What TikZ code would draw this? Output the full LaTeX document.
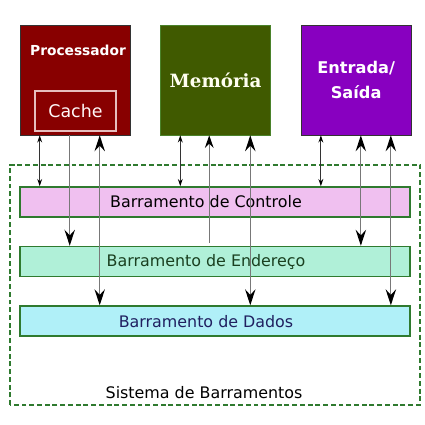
\documentclass[tikz,border=0pt]{standalone}
\usepackage{fontspec}
\setmainfont{DejaVu Sans}
\newfontfamily\memfont{DejaVu Serif}
\definecolor{ProcRed}{RGB}{136,0,0}
\definecolor{MemGreen}{RGB}{64,90,0}
\definecolor{MemEdge}{RGB}{74,130,42}
\definecolor{IOPurple}{RGB}{136,0,192}
\definecolor{BusGreen}{RGB}{47,122,47}
\definecolor{CtrlPink}{RGB}{240,192,240}
\definecolor{AddrMint}{RGB}{176,240,216}
\definecolor{DataCyan}{RGB}{176,240,248}
\definecolor{AddrText}{RGB}{26,64,32}
\definecolor{DataText}{RGB}{32,32,96}
\definecolor{WireGray}{RGB}{120,120,120}
\definecolor{CtrlGray}{RGB}{51,51,51}
\definecolor{CacheEdge}{RGB}{230,190,190}
\usepackage{tikz}
\usetikzlibrary{arrows.meta, positioning, calc}

\begin{document}
\begin{tikzpicture}[
	unit/.style={rectangle,draw=CtrlGray,minimum width=2.75cm,minimum height=2.75cm,inner sep=0pt,text=white},
	bus/.style={rectangle,draw=BusGreen,line width=1.1pt,minimum width=9.75cm,minimum height=0.75cm,inner sep=0pt},
	buslbl/.style={font=\fontsize{11.3}{13}\selectfont,xshift=-0.225cm},
	ctl/.style={{Stealth[length=1.8mm,width=1.2mm,black]}-{Stealth[length=1.8mm,width=1.2mm,black]},draw=CtrlGray,line width=0.9pt},
	addrw/.style={draw=WireGray,line width=0.9pt},
	datw/.style={{Stealth[length=4mm,width=2.6mm,inset=1.4mm,black]}-{Stealth[length=4mm,width=2.6mm,inset=1.4mm,black]},draw=WireGray,line width=0.9pt}]
\useasboundingbox (0,0) rectangle (10.625,10.625);
% bus system frame
\draw[BusGreen,line width=0.9pt,dash pattern=on 3.5pt off 2pt] (0.25,0.5) rectangle (10.5,6.5);
\node[font=\fontsize{11.3}{13}\selectfont] (sys) at (5.1,0.8) {Sistema de Barramentos};
% units
\node[unit,fill=ProcRed] (proc) at (1.875,8.625) {};
\node[unit,fill=MemGreen,draw=MemEdge,right=0.75cm of proc,text=white!94!yellow,font=\memfont\bfseries\fontsize{13}{15}\selectfont] (mem) {Memória};
\node[unit,fill=IOPurple,right=0.75cm of mem,align=center,font=\bfseries\fontsize{11.5}{18}\selectfont] (io) {Entrada/\\Saída};
\node[text=white,font=\bfseries\fontsize{9.8}{12}\selectfont] (proclbl) at (1.95,9.375) {Processador};
\node[draw=CacheEdge,line width=0.8pt,minimum width=2.025cm,minimum height=1cm,text=white!90!pink,font=\fontsize{12.4}{14}\selectfont] (cache) at (1.8875,7.85) {Cache};
% buses
\node[bus,fill=CtrlPink] (ctrl) at (5.375,5.575) {};
\node[bus,fill=AddrMint,below=0.7cm of ctrl] (addr) {};
\node[bus,fill=DataCyan,below=0.7cm of addr] (data) {};
\node[buslbl] (ctrllbl) at (ctrl.center) {Barramento de Controle};
\node[buslbl,text=AddrText] (addrlbl) at (addr.center) {Barramento de Endereço};
\node[buslbl,text=DataText] (datalbl) at (data.center) {Barramento de Dados};
% control lines
\foreach \u in {proc,mem,io}
	\draw[ctl] ($(\u.south west)+(0.5,0)$) coordinate (c\u) -- (c\u |- ctrl.north);
% address lines
\draw[addrw,-{Stealth[length=4mm,width=2.6mm,inset=1.4mm,black]}] ($(proc.south west)+(1.25,0)$) coordinate (aproc) -- (aproc |- addr.north);
\draw[addrw,-{Stealth[length=3.2mm,width=2.2mm,inset=1.1mm,black]},shorten <=0.08cm] ($(addr.north west)+(4.75,0)$) coordinate (amem) -- (amem |- mem.south);
\draw[datw] ($(io.south west)+(1.5,0)$) coordinate (aio) -- (aio |- addr.north);
% data lines
\foreach \u/\x in {proc/2.0,mem/2.25,io/2.25}
	\draw[datw] ($(\u.south west)+(\x,0)$) coordinate (d\u) -- (d\u |- data.north);
\end{tikzpicture}
\end{document}
